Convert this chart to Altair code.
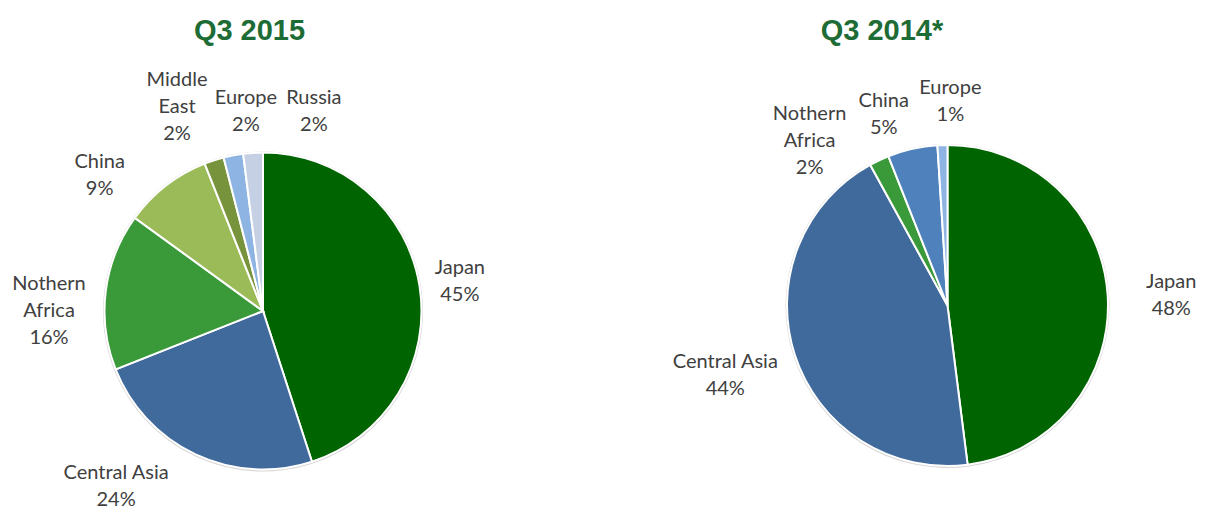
import math
import altair as alt
import pandas as pd

# ---- data ----
regions_2015 = ["Japan", "Central Asia", "Nothern Africa", "China", "Middle East", "Europe", "Russia"]
shares_2015 = [45, 24, 16, 9, 2, 2, 2]
labels_2015 = ["Japan\n45%", "Central Asia\n24%", "Nothern\nAfrica\n16%", "China\n9%",
               "Middle\nEast\n2%", "Europe\n2%", "Russia\n2%"]

regions_2014 = ["Japan", "Central Asia", "Nothern Africa", "China", "Europe"]
shares_2014 = [48, 44, 2, 5, 1]
labels_2014 = ["Japan\n48%", "Central Asia\n44%", "Nothern\nAfrica\n2%", "China\n5%", "Europe\n1%"]

titles = ["Q3 2015", "Q3 2014*"]

# ---- styles / layout ----
colors_2015 = ["#006400", "#416a9c", "#3a9a3a", "#9bbb59", "#77933c", "#8db4e2", "#c5d0e4"]
colors_2014 = ["#006400", "#416a9c", "#3a9a3a", "#4f81bd", "#8db4e2"]
# label placement (polar: degrees clockwise from north, radius px) of each label block's centre
lab_ang_2015 = [81.6, 219.9, 270.0, 309.6, 337.1, 355.1, 14.3]
lab_rad_2015 = [199, 229, 214, 212, 221, 200, 206]
lab_ang_2014 = [87.4, 252.5, 320.1, 341.5, 0.8]
lab_rad_2014 = [224, 233, 215, 201, 204]

W, H = 1189, 502
C1 = (255, 303, 158.5)
C2 = (939.5, 297.5, 160.5)
TEXT_COLOR = "#404040"
FONT = "Lato"
FS = 20
LH = 27


def pie(regions, shares, labels, colors, angs, rads, center):
    cx, cy, r = center
    df = pd.DataFrame({
        "region": regions,
        "share": shares,
        "label": labels,
        "nlines": [lab.count("\n") + 1 for lab in labels],
        "idx": list(range(len(regions))),
        "lt": [math.radians(a) for a in angs],
        "lr": rads,
    })
    base = alt.Chart(df)
    shadow = base.mark_arc(radius=r + 1.5, color="#d6d6d6").encode(
        theta=alt.Theta("share:Q", stack=True),
        order=alt.Order("idx:Q"),
        x=alt.value(cx), y=alt.value(cy + 0.5),
    )
    arcs = base.mark_arc(radius=r, stroke="white", strokeWidth=2).encode(
        theta=alt.Theta("share:Q", stack=True),
        order=alt.Order("idx:Q"),
        color=alt.Color("region:N", scale=alt.Scale(domain=regions, range=colors), legend=None),
        x=alt.value(cx), y=alt.value(cy),
    )
    out = [shadow, arcs]
    for n in (2, 3):
        out.append(
            base.transform_filter(alt.datum.nlines == n).mark_text(
                font=FONT, fontSize=FS, color=TEXT_COLOR, lineBreak="\n",
                lineHeight=LH, align="center", baseline="middle",
                dy=-(n - 1) * LH / 2).encode(
                text="label:N",
                theta=alt.Theta("lt:Q", scale=None),
                radius=alt.Radius("lr:Q", scale=None),
                x=alt.value(cx), y=alt.value(cy),
            )
        )
    return out


def title(t, x, y):
    return alt.Chart(pd.DataFrame({"t": [t]})).mark_text(
        font="Liberation Sans", fontSize=29, fontWeight="bold", color="#1d6b35",
        align="center", baseline="middle").encode(text="t:N", x=alt.value(x), y=alt.value(y))


layers = (pie(regions_2015, shares_2015, labels_2015, colors_2015, lab_ang_2015, lab_rad_2015, C1)
          + pie(regions_2014, shares_2014, labels_2014, colors_2014, lab_ang_2014, lab_rad_2014, C2)
          + [title(titles[0], 241.5, 23), title(titles[1], 874, 23)])

chart = alt.layer(*layers).resolve_scale(
    theta="independent", color="independent", radius="independent"
).properties(
    width=W, height=H, padding=0, autosize=alt.AutoSizeParams(type="none")
).configure_view(stroke=None)

chart.save("out.html", embed_options={"renderer": "svg", "actions": False})
